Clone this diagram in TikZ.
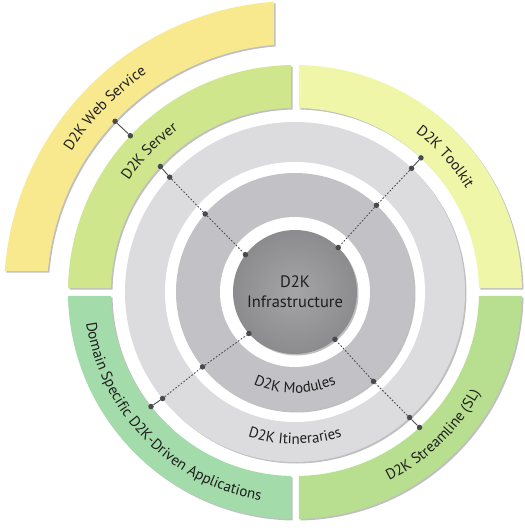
\documentclass[tikz,border=0pt]{standalone}
\usepackage{fontspec}
\setmainfont{PT Sans}
\usetikzlibrary{decorations.text,shadows}

\definecolor{webfill}{HTML}{F8E98F}
\definecolor{srvfill}{HTML}{CFE68C}
\definecolor{tkfill}{HTML}{F0F6A8}
\definecolor{slfill}{HTML}{B8DF90}
\definecolor{appfill}{HTML}{A3DCAA}
\definecolor{itinfill}{HTML}{DCDBDE}
\definecolor{modfill}{HTML}{C2C1C5}
\definecolor{dotgray}{HTML}{4A4A4C}
\definecolor{labelgray}{HTML}{1E1E1E}

\newcommand\ringfont{\fontsize{15}{18}\selectfont}
\newcommand\corefont{\fontsize{16.5}{20}\selectfont}

% part of an annulus between two angles, cut by a straight gap
\newcommand\ringpart[6]{%
  \fill[#1] ({#2+asin(#4/#6)}:#6) arc[start angle={#2+asin(#4/#6)}, end angle={#3-asin(#4/#6)}, radius=#6]
    -- ({#3-asin(#4/#5)}:#5) arc[start angle={#3-asin(#4/#5)}, end angle={#2+asin(#4/#5)}, radius=#5] -- cycle;}

\tikzset{
  ringshadow/.style={drop shadow={shadow xshift=1.5pt, shadow yshift=-1.5pt, opacity=.25, fill=black}},
  dot/.style={circle, fill=dotgray, inner sep=0pt, minimum size=5.5pt},
  link/.style={draw=dotgray, line width=.9pt},
  dotlink/.style={draw=dotgray, line width=.9pt, dash pattern=on 1.6pt off 1.8pt},
  ringlabel/.style={decorate, decoration={text along path, text align=center,
      text color=labelgray, text={|\ringfont|#1}}},
  core/.style={circle, minimum size=124pt, inner sep=0pt, shading=radial,
      inner color=modfill!85!black, outer color=modfill!72!black, align=center,
      font=\corefont, text=labelgray}
}

\begin{document}
\begin{tikzpicture}[x=1pt, y=1pt]
\useasboundingbox (-295,-239) rectangle (230,292);

% --- Outer ring parts ---
\ringpart{webfill, ringshadow}{90}{180}{21}{248}{291}
\ringpart{srvfill, ringshadow}{90}{180}{4}{184}{227}
\ringpart{tkfill, ringshadow}{0}{90}{4}{184}{227}
\ringpart{appfill, ringshadow}{180}{270}{4}{184}{227}
\ringpart{slfill, ringshadow}{270}{360}{4}{184}{227}

% --- Grey rings ---
\fill[itinfill, ringshadow] (0,0) circle[radius=170];
\fill[white] (0,0) circle[radius=130];
\fill[modfill, ringshadow] (0,0) circle[radius=119];
\fill[white] (0,0) circle[radius=75];
\node[core, ringshadow] (core) at (0,0) {D2K\\Infrastructure};

% --- Ring labels ---
\path[ringlabel=D2K Web Service] (160:264) arc[start angle=160, end angle=112, radius=264];
\path[ringlabel=D2K Server] (160:200) arc[start angle=160, end angle=112, radius=200];
\path[ringlabel=D2K Toolkit] (66:200) arc[start angle=66, end angle=18, radius=200];
\path[ringlabel=D2K Streamline (SL)] (-80:211) arc[start angle=-80, end angle=-12, radius=211];
\path[ringlabel=Domain Specific D2K-Driven Applications] (180:211) arc[start angle=180, end angle=269, radius=211];
\path[ringlabel=D2K Modules] (-130:101) arc[start angle=-130, end angle=-50, radius=101];
\path[ringlabel=D2K Itineraries] (-125:152) arc[start angle=-125, end angle=-55, radius=152];

% --- Connectors ---
\node[dot] (webA) at (136.5:248) {};
\node[dot] (webB) at (136.5:227) {};
\draw[link] (webA) -- (webB);

\node[dot] (srvA) at (137:184) {};
\node[dot] (srvB) at (137.5:170) {};
\node[dot] (srvC) at (139:119) {};
\node[dot] (srvD) at (143:62) {};
\draw[link] (srvA) -- (srvB);
\draw[dotlink] (srvB) -- (srvC) -- (srvD);

\node[dot] (tkA) at (46.8:184) {};
\node[dot] (tkB) at (46.7:170) {};
\node[dot] (tkC) at (46.8:119) {};
\node[dot] (tkD) at (45.8:62) {};
\draw[link] (tkA) -- (tkB);
\draw[dotlink] (tkB) -- (tkC) -- (tkD);

\node[dot] (appA) at (218.5:184) {};
\node[dot] (appB) at (218.8:170) {};
\node[dot] (appC) at (219:119) {};
\node[dot] (appD) at (222:62) {};
\draw[link] (appA) -- (appB);
\draw[dotlink] (appB) -- (appC) -- (appD);

\node[dot] (slA) at (-47.4:184) {};
\node[dot] (slB) at (-47.6:170) {};
\node[dot] (slC) at (-48.7:119) {};
\node[dot] (slD) at (-49.8:62) {};
\draw[link] (slA) -- (slB);
\draw[dotlink] (slB) -- (slC) -- (slD);

\end{tikzpicture}
\end{document}
